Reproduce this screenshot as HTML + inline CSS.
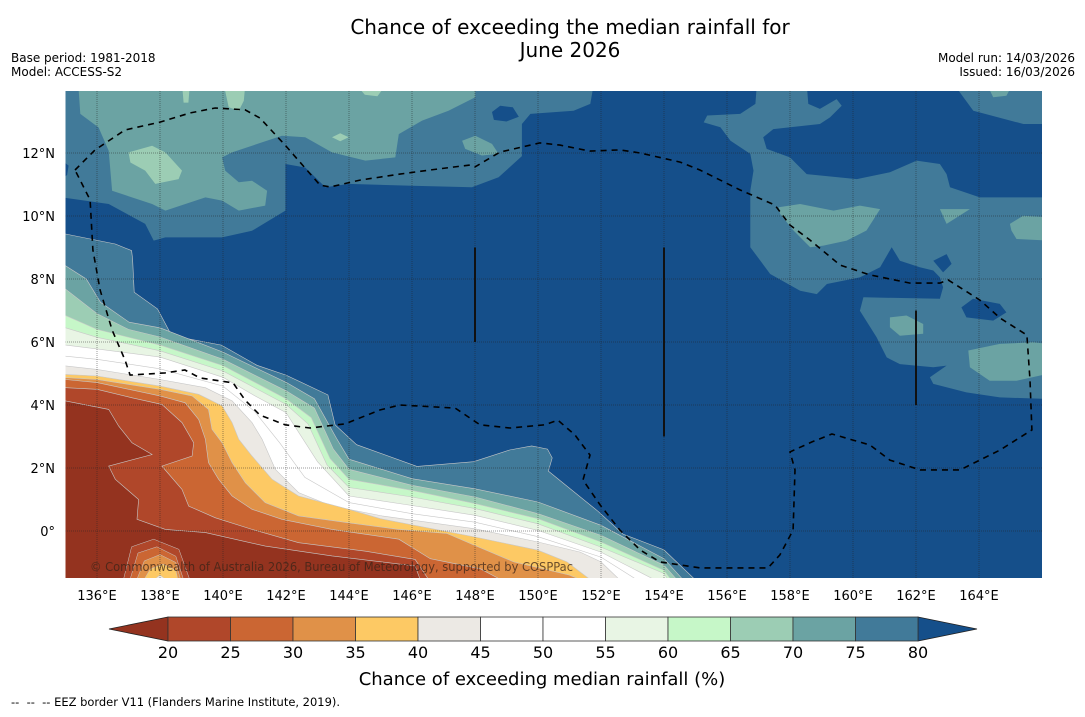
<!DOCTYPE html>
<html><head><meta charset="utf-8">
<style>
html,body{margin:0;padding:0;background:#fff;}
body{width:1085px;height:713px;overflow:hidden;font-family:"DejaVu Sans","Liberation Sans",sans-serif;}
svg text{font-family:"DejaVu Sans","Liberation Sans",sans-serif;}
</style></head>
<body>
<svg id="chart" width="1085" height="713" viewBox="0 0 1085 713" xmlns="http://www.w3.org/2000/svg">
<rect width="1085" height="713" fill="#fff"/>
<text x="570" y="34" font-size="20" text-anchor="middle" fill="#000">Chance of exceeding the median rainfall for</text>
<text x="570" y="57" font-size="20" text-anchor="middle" fill="#000">June 2026</text>
<text x="11" y="62" font-size="12" fill="#000">Base period: 1981-2018</text>
<text x="11" y="76" font-size="12" fill="#000">Model: ACCESS-S2</text>
<text x="1075" y="62" font-size="12" text-anchor="end" fill="#000">Model run: 14/03/2026</text>
<text x="1075" y="76" font-size="12" text-anchor="end" fill="#000">Issued: 16/03/2026</text>
<defs><clipPath id="mapclip"><rect x="65.5" y="91" width="976.5" height="487"/></clipPath></defs>
<g id="map" clip-path="url(#mapclip)"></g>
<g id="axes"></g>
<g id="cbar"></g>
<text x="542" y="685" font-size="18" text-anchor="middle" fill="#000">Chance of exceeding median rainfall (%)</text>
<text x="11" y="706" font-size="11.5" fill="#000" xml:space="preserve" textLength="329" lengthAdjust="spacingAndGlyphs">--  --  -- EEZ border V11 (Flanders Marine Institute, 2019).</text>
</svg>
<script>
// ---- data ----
const levels=[20,25,30,35,40,45,50,55,60,65,70,75,80];
const bandColors=["#94331f","#b0472a","#cb6633","#e09148","#fdc964","#ece9e4","#ffffff","#ffffff","#e8f5e4","#c6f7c8","#9ccdb4","#6ba3a3","#417a99","#154f8a"];
const lonTicks=[136,138,140,142,144,146,148,150,152,154,156,158,160,162,164];
const latTicks=[0,2,4,6,8,10,12];
const c80=[[135,9.43],[136.58,9.11],[137.1,8.9],[137.13,8.63],[137.18,7.58],[137.92,7.05],[138.37,6.2],[139.95,5.9],[141.08,5.26],[142.0,4.95],[143.33,4.32],[143.56,3.37],[144.24,2.74],[146.16,2.05],[147.96,2.2],[149.1,2.57],[149.8,2.7],[150.3,2.6],[150.45,2.32],[150.33,1.9],[151.9,0.63],[152.7,-0.1],[154.0,-0.6],[155.1,-1.65]];
const c75=[[135,8.42],[135.66,8.0],[136.11,7.26],[137.02,6.63],[138,6.45],[140,5.68],[141.08,5.16],[142,4.72],[142.9,4.2],[143.6,2.95],[144,2.28],[146,1.66],[148,1.34],[150,0.92],[152,0.18],[154,-0.88],[154.7,-1.65]];
const c70=[[135,7.68],[136,6.9],[137,6.4],[138,6.16],[140,5.45],[142,4.45],[142.9,3.9],[143.5,2.6],[144,1.96],[146,1.45],[148,1.08],[150,0.55],[152,-0.14],[154,-1.09],[154.5,-1.65]];
const c65=[[135,6.84],[136,6.4],[138,5.9],[140,5.25],[142,4.2],[142.8,3.6],[143.4,2.3],[144,1.64],[146,1.29],[148,0.87],[150,0.39],[152,-0.35],[154,-1.25],[154.3,-1.65]];
const c60=[[135,6.45],[136,6.15],[138,5.72],[140,5.08],[142,4.02],[142.7,3.4],[143.3,2.1],[144,1.38],[146,1.08],[148,0.71],[150,0.23],[152,-0.51],[154,-1.35],[154.2,-1.65]];
const c55=[[135,5.9],[136,5.78],[138,5.52],[140,4.88],[141,4.3],[142,3.76],[143,2.2],[144,1.11],[146,0.81],[148,0.5],[150,0.02],[152,-0.67],[153.9,-1.65]];
const c50=[[135,5.55],[136,5.45],[138,5.15],[140,4.6],[141,3.8],[141.8,2.8],[142.6,1.7],[144,0.9],[146,0.55],[148,0.28],[150,-0.18],[152,-0.83],[153.3,-1.65]];
const c45=[[135,5.24],[136,5.13],[138,4.81],[139.44,4.55],[140.29,4.13],[140.92,3.44],[141.24,2.91],[141.66,1.96],[142.4,1.22],[143.46,0.79],[145.05,0.48],[148,0.07],[150,-0.35],[151.34,-0.67],[152,-0.98],[152.7,-1.65]];
const c40=[[135,4.97],[136,4.92],[138,4.6],[139.23,4.34],[139.97,3.97],[140.29,3.44],[140.5,2.91],[140.92,2.38],[141.56,1.64],[142.4,1.11],[143.99,0.69],[145,0.39],[148,-0.19],[150,-0.61],[150.92,-0.98],[151.8,-1.65]];
const c35=[[135,4.87],[136,4.81],[138,4.5],[139.02,4.29],[139.54,3.86],[139.65,3.23],[139.97,2.8],[140.29,2.17],[140.71,1.53],[141.34,0.9],[142.4,0.48],[143.99,0.26],[145.58,0.05],[147.11,-0.08],[148,-0.46],[149.23,-0.98],[151.0,-1.4],[151.6,-1.65]];
const c30=[[135,4.81],[136,4.71],[138,4.29],[138.8,4.07],[139.23,3.54],[139.44,2.91],[139.54,2.17],[139.86,1.64],[140.29,1.11],[140.92,0.69],[141.87,0.37],[143.46,0.05],[145.58,-0.26],[146.58,-0.88],[148.17,-1.2],[149.02,-1.65]];
const c25=[[135,4.55],[136,4.5],[137.11,4.23],[138.06,4.02],[138.7,3.44],[139.07,2.8],[139.02,2.38],[138.06,2.06],[138.7,1.32],[138.91,0.79],[139.76,0.42],[140.92,0.05],[142.4,-0.37],[144.52,-0.64],[146.1,-0.9],[146.6,-1.65]];
const c20=[[135,4.13],[136.37,3.86],[136.69,3.33],[137.11,2.8],[137.75,2.43],[136.37,2.06],[136.58,1.64],[137.32,1.0],[137.27,0.37],[138.17,0.05],[139.44,-0.05],[141.34,-0.48],[143.46,-0.79],[146.1,-1.11],[146.3,-1.65]];
const bump20=[[136.8,-1.7],[137.1,-0.5],[137.8,-0.26],[138.6,-0.58],[139.0,-1.7]];
const bump25=[[137.0,-1.7],[137.3,-0.7],[137.9,-0.5],[138.5,-0.8],[138.8,-1.7]];
const bump30=[[137.2,-1.7],[137.5,-0.95],[138.0,-0.75],[138.5,-1.0],[138.7,-1.7]];
const bump35=[[137.4,-1.7],[137.7,-1.2],[138.1,-1.05],[138.5,-1.25],[138.6,-1.7]];
const bump40=[[137.6,-1.7],[138.0,-1.4],[138.4,-1.7]];
const north75=[[134.9,10.59],[136.37,10.38],[137.53,9.75],[137.8,9.22],[138.17,9.32],[139.97,9.32],[140.92,9.53],[141.98,10.17],[141.98,11.65],[142.61,11.54],[143.25,10.91],[143.99,11.02],[146.0,10.96],[147.9,10.91],[148.75,11.23],[149.49,11.9],[149.49,12.92],[149.76,13.24],[151.13,13.34],[151.66,13.56],[151.77,14.2],[134.9,14.2]];
const north70=[[135.42,14.2],[135.42,13.98],[135.47,13.24],[136.05,12.81],[136.37,12.07],[136.48,10.8],[137.75,10.38],[138.17,10.17],[139.44,10.59],[139.97,10.49],[140.5,10.17],[141.34,10.33],[141.4,10.8],[140.92,11.12],[140.5,11.07],[140.07,11.44],[139.97,11.86],[140.29,12.02],[141.87,12.55],[142.61,12.5],[143.46,12.02],[144.52,11.76],[145.47,11.86],[145.58,12.6],[146.32,13.03],[147.16,13.34],[148.01,13.77],[148.01,14.2]];
const north70b=[[147.59,12.39],[148.01,12.55],[148.54,12.29],[148.75,11.97],[148.22,11.92],[147.69,12.13]];
const north65a=[[137.0,12.02],[137.75,12.23],[138.17,12.02],[138.7,11.44],[138.59,11.17],[137.85,11.02],[137.53,11.44],[137.06,11.7]];
const north65b=[[140.02,14.2],[140.18,13.45],[140.5,13.34],[140.66,13.66],[140.71,14.2]];
const north65c=[[143.46,12.5],[143.72,12.63],[143.99,12.5],[143.72,12.37]];
const north65d=[[144.2,14.2],[144.5,13.85],[144.9,13.8],[145.2,14.2]];
const north65e=[[138.7,14.2],[138.75,13.6],[138.9,13.6],[138.95,14.2]];
const northDark=[[148.54,13.3],[148.8,13.5],[149.2,13.45],[149.39,13.15],[149.0,13.0],[148.6,13.05]];
const westDark=[[134.9,11.75],[135.1,11.6],[135.05,11.3],[134.9,11.2]];
const east75=[[156.95,14.2],[166.2,14.2],[166.2,4.19],[164.66,4.24],[163.6,4.4],[162.55,4.67],[162.44,4.88],[162.97,5.25],[162.55,5.2],[161.49,5.3],[161.07,5.51],[160.75,6.15],[160.22,6.99],[160.33,7.42],[162.76,7.37],[162.86,7.74],[162.76,8.05],[162.55,8.27],[162.12,8.37],[161.49,8.58],[161.23,9.01],[160.86,8.37],[160.22,8.05],[159.17,7.84],[158.85,7.52],[158.32,7.63],[157.37,8.16],[156.74,9.01],[156.74,10.8],[156.84,11.44],[156.74,11.97],[156.11,12.39],[155.79,12.82],[155.26,12.97],[155.37,13.19],[156.42,13.24],[156.9,13.56]];
const eastDark1=[[158.53,14.2],[158.58,13.56],[158.95,13.4],[159.48,13.71],[159.64,13.5],[159.27,13.13],[158.95,12.92],[157.47,12.76],[157.15,12.5],[157.26,12.13],[158.0,11.86],[158.53,11.33],[160.12,11.17],[161.17,11.39],[162.02,11.76],[162.76,11.65],[162.97,11.33],[163.08,10.91],[164.03,10.59],[166.2,10.59],[166.2,12.92],[165.41,12.92],[163.82,13.34],[163.19,14.2]];
const eastDark2=[[162.55,8.58],[162.97,8.79],[163.13,8.48],[162.86,8.21]];
const eastDark3=[[163.44,7.1],[163.81,7.37],[164.66,7.21],[164.87,6.94],[164.45,6.68],[163.6,6.78]];
const east70a=[[157.64,10.28],[158.32,10.38],[159.38,10.17],[160.22,10.33],[160.86,10.22],[160.43,9.54],[159.8,9.22],[159.06,9.06],[158.64,9.01],[158.11,9.54],[157.69,10.06]];
const east70b=[[161.17,6.78],[161.7,6.84],[162.23,6.57],[162.23,6.26],[161.49,6.2],[161.17,6.47]];
const east70c=[[162.76,10.22],[163.71,10.22],[162.97,9.75]];
const east70d=[[164.98,9.75],[165.4,10.01],[166.2,9.96],[166.2,9.22],[165.19,9.27],[165.03,9.54]];
const east70e=[[163.66,5.73],[164.66,5.94],[165.71,5.99],[166.2,5.94],[166.2,4.99],[165.19,4.77],[164.34,4.77],[163.71,5.2]];
const east70f=[[164.24,14.2],[164.45,13.77],[164.87,13.82],[165.08,14.2]];
const eez=[[135.3,11.46],[135.94,12.1],[136.89,12.73],[138.0,12.98],[138.95,13.27],[139.75,13.43],[140.7,13.37],[141.17,13.11],[141.97,12.25],[143.08,10.98],[143.4,10.92],[144.35,11.14],[145.62,11.33],[146.57,11.46],[147.84,11.62],[148.0,11.56],[148.79,12.03],[150.06,12.32],[150.7,12.25],[151.65,12.06],[152.6,12.1],[153.24,12.0],[154.51,11.71],[155.14,11.46],[156.41,10.83],[157.52,10.35],[158.0,9.71],[158.63,9.24],[159.59,8.44],[160.54,8.13],[161.81,7.87],[162.76,7.87],[163.02,7.97],[164.03,7.33],[164.67,6.76],[165.52,6.22],[165.62,4.79],[165.68,3.21],[164.67,2.57],[163.4,1.94],[162.13,1.94],[161.17,2.25],[160.54,2.73],[159.33,3.08],[158.7,2.83],[158.0,2.51],[158.16,1.94],[158.1,0.03],[157.68,-0.76],[157.3,-1.17],[155.14,-1.17],[153.87,-0.98],[153.24,-0.6],[152.6,0.03],[151.97,0.83],[151.43,1.62],[151.65,2.41],[151.17,3.05],[150.63,3.52],[150.22,3.37],[149.11,3.27],[148.16,3.37],[147.37,3.9],[145.62,4.0],[144.98,3.84],[143.87,3.4],[142.76,3.27],[141.97,3.37],[141.17,3.68],[140.7,4.16],[140.32,4.7],[139.27,4.86],[138.79,5.11],[138.16,5.02],[137.05,4.95],[136.89,5.43],[136.48,6.38],[136.1,7.65],[135.87,8.92],[135.78,10.51],[135.3,11.46]];
const segLons=[148,154,162];
const segTop=[9,9,7];
const segBot=[6,3,4];

const X=lon=>97+(lon-136)*31.5;
const Y=lat=>531-lat*31.5;
const NS="http://www.w3.org/2000/svg";
const map=document.getElementById('map');
const axes=document.getElementById('axes');
const cbar=document.getElementById('cbar');
function pts(arr){return arr.map(p=>X(p[0]).toFixed(1)+","+Y(p[1]).toFixed(1)).join(" ");}
function poly(parent,arr,fill,name){
  const e=document.createElementNS(NS,'polygon');
  e.setAttribute('points',pts(arr));
  e.setAttribute('fill',fill);
  
  
  parent.appendChild(e);return e;
}
function fillSW(line){const a=line.slice();const last=a[a.length-1];a.push([last[0],-1.9]);a.push([134.8,-1.9]);a.push([134.8,line[0][1]]);return a;}

const bg=document.createElementNS(NS,'rect');
bg.setAttribute('x',60);bg.setAttribute('y',85);bg.setAttribute('width',990);bg.setAttribute('height',500);bg.setAttribute('fill',bandColors[13]);


map.appendChild(bg);

poly(map,north75,bandColors[12],'north-band-75-80');
poly(map,westDark,bandColors[13],'north-dark-patch');
poly(map,northDark,bandColors[13],'north-dark-patch');
poly(map,north70,bandColors[11],'north-band-70-75');
poly(map,north70b,bandColors[11],'north-band-70-75');
[north65a,north65b,north65c,north65d,north65e].forEach(a=>poly(map,a,bandColors[10],'north-band-65-70'));
poly(map,east75,bandColors[12],'east-band-75-80');
[eastDark1,eastDark2,eastDark3].forEach(a=>poly(map,a,bandColors[13],'east-dark-patch'));
[east70a,east70b,east70c,east70d,east70e,east70f].forEach(a=>poly(map,a,bandColors[11],'east-band-70-75'));

const swLines=[c80,c75,c70,c65,c60,c55,c50,c45,c40,c35,c30,c25,c20];
const swIdx=[12,11,10,9,8,7,6,5,4,3,2,1,0];
swLines.forEach((ln,i)=>{
  const p=poly(map,fillSW(ln),bandColors[swIdx[i]],'band-below-'+levels[swIdx[i]+1]);
  p.setAttribute('stroke','#c8c8c8');p.setAttribute('stroke-width','0.6');
});
const bumps=[bump20,bump25,bump30,bump35,bump40];
bumps.forEach((b,i)=>{const p=poly(map,b,bandColors[i+1],'bottom-bump-'+levels[i+1]);p.setAttribute('stroke','#c8c8c8');p.setAttribute('stroke-width','0.5');});

lonTicks.forEach(l=>{const e=document.createElementNS(NS,'line');e.setAttribute('x1',X(l));e.setAttribute('x2',X(l));e.setAttribute('y1',91);e.setAttribute('y2',578);e.setAttribute('stroke','#222');e.setAttribute('stroke-opacity','0.45');e.setAttribute('stroke-width','1');e.setAttribute('stroke-dasharray','1,1');


map.appendChild(e);});
latTicks.forEach(l=>{const e=document.createElementNS(NS,'line');e.setAttribute('x1',65);e.setAttribute('x2',1042);e.setAttribute('y1',Y(l));e.setAttribute('y2',Y(l));e.setAttribute('stroke','#222');e.setAttribute('stroke-opacity','0.45');e.setAttribute('stroke-width','1');e.setAttribute('stroke-dasharray','1,1');


map.appendChild(e);});

const ez=document.createElementNS(NS,'polyline');
ez.setAttribute('points',pts(eez));ez.setAttribute('fill','none');ez.setAttribute('stroke','#000');ez.setAttribute('stroke-width','1.6');ez.setAttribute('stroke-dasharray','6,5');


map.appendChild(ez);
segLons.forEach((l,i)=>{const e=document.createElementNS(NS,'line');e.setAttribute('x1',X(l));e.setAttribute('x2',X(l));e.setAttribute('y1',Y(segTop[i]));e.setAttribute('y2',Y(segBot[i]));e.setAttribute('stroke','#111');e.setAttribute('stroke-width','2');


map.appendChild(e);});

const cp=document.createElementNS(NS,'text');
cp.setAttribute('x',90);cp.setAttribute('y',571);cp.setAttribute('font-size','12');cp.setAttribute('fill','#3a2418');cp.setAttribute('fill-opacity','0.75');
cp.setAttribute('textLength','483');cp.setAttribute('lengthAdjust','spacingAndGlyphs');
cp.textContent='© Commonwealth of Australia 2026, Bureau of Meteorology, supported by COSPPac';


map.appendChild(cp);

lonTicks.forEach(l=>{const t=document.createElementNS(NS,'text');t.setAttribute('x',X(l));t.setAttribute('y',600);t.setAttribute('font-size','13');t.setAttribute('text-anchor','middle');t.textContent=l+'°E';


axes.appendChild(t);});
latTicks.forEach(l=>{const t=document.createElementNS(NS,'text');t.setAttribute('x',55);t.setAttribute('y',Y(l)+5);t.setAttribute('font-size','13');t.setAttribute('text-anchor','end');t.textContent=l===0?'0°':l+'°N';


axes.appendChild(t);});

const cbX=v=>168+(v-20)*12.5;
const cy0=617,cy1=641;
const lt=document.createElementNS(NS,'polygon');
lt.setAttribute('points',`${cbX(20)},${cy0} 109,${(cy0+cy1)/2} ${cbX(20)},${cy1}`);lt.setAttribute('fill',bandColors[0]);lt.setAttribute('stroke','#222');lt.setAttribute('stroke-width','0.8');


cbar.appendChild(lt);
const rt=document.createElementNS(NS,'polygon');
rt.setAttribute('points',`${cbX(80)},${cy0} 977,${(cy0+cy1)/2} ${cbX(80)},${cy1}`);rt.setAttribute('fill',bandColors[13]);rt.setAttribute('stroke','#222');rt.setAttribute('stroke-width','0.8');


cbar.appendChild(rt);
for(let i=0;i<levels.length-1;i++){
  const r=document.createElementNS(NS,'rect');
  r.setAttribute('x',cbX(levels[i]));r.setAttribute('y',cy0);r.setAttribute('width',cbX(levels[i+1])-cbX(levels[i]));r.setAttribute('height',cy1-cy0);
  r.setAttribute('fill',bandColors[i+1]);r.setAttribute('stroke','#333');r.setAttribute('stroke-width','0.8');
  
  
  cbar.appendChild(r);
}
levels.forEach(v=>{const t=document.createElementNS(NS,'text');t.setAttribute('x',cbX(v));t.setAttribute('y',658);t.setAttribute('font-size','16');t.setAttribute('text-anchor','middle');t.textContent=v;


cbar.appendChild(t);});
</script>
</body></html>
